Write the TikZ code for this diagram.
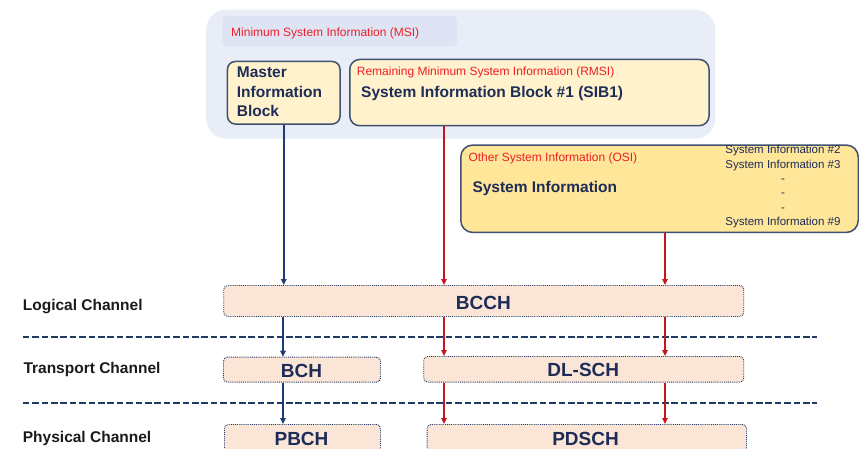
\documentclass[tikz,border=0pt]{standalone}
\usepackage{fontspec}
\setmainfont{Liberation Sans}
\usetikzlibrary{arrows.meta}

\definecolor{navytext}{RGB}{30,44,88}
\definecolor{redtext}{RGB}{240,30,40}
\definecolor{arrowred}{RGB}{196,22,28}
\definecolor{arrowblue}{RGB}{31,58,120}
\definecolor{dashnavy}{RGB}{31,56,100}
\definecolor{panelfill}{RGB}{233,237,247}
\definecolor{tagfill}{RGB}{222,228,243}
\definecolor{lightyel}{RGB}{255,242,204}
\definecolor{osiyel}{RGB}{255,230,153}
\definecolor{peach}{RGB}{251,229,214}
\definecolor{boxline}{RGB}{64,80,112}
\definecolor{labelblack}{RGB}{26,26,26}

\begin{document}
\begin{tikzpicture}[x=1pt,y=-1pt,
  shell/.style={rectangle, inner sep=0pt, anchor=north west},
  outerpanel/.style={shell, fill=panelfill, rounded corners=20pt},
  msitag/.style={shell, fill=tagfill, rounded corners=4pt},
  infobox/.style={shell, draw=boxline, line width=1.5pt},
  chanbox/.style={shell, fill=peach, draw=dashnavy, densely dotted, line width=0.9pt, rounded corners=4pt},
  txt/.style={inner sep=0pt, anchor=base west},
  redsmall/.style={txt, text=redtext, font=\fontsize{12}{14}\selectfont},
  boldnavy/.style={txt, text=navytext, font=\fontsize{15.5}{19}\bfseries},
  silist/.style={inner sep=0pt, anchor=base, text=navytext, font=\fontsize{11.5}{14}\selectfont},
  chanlabel/.style={txt, text=labelblack, font=\fontsize{15.5}{19}\bfseries},
  channame/.style={inner sep=0pt, anchor=base, text=navytext, font=\fontsize{19}{22}\bfseries},
  bluearrow/.style={draw=arrowblue, line width=1.5pt, -{Triangle[length=6pt,width=5.5pt]}},
  redarrow/.style={draw=arrowred, line width=1.5pt, -{Triangle[length=6pt,width=5.5pt]}},
  layerline/.style={draw=dashnavy, line width=2pt, dash pattern=on 6.7pt off 2.7pt}
]
\useasboundingbox (0,0) rectangle (859,449);
\fill[white] (0,0) rectangle (859,449);
\clip (0,0) rectangle (859,449);

% Minimum System Information panel
\node[outerpanel, minimum width=509pt, minimum height=129pt] (msi) at (206,9.5) {};
\node[msitag, minimum width=234.5pt, minimum height=30pt] (msitag) at (222.3,16) {};
\node[redsmall] (msilabel) at (231,36.7) {Minimum System Information (MSI)};

% Master Information Block
\node[infobox, fill=lightyel, rounded corners=8pt, minimum width=112.6pt, minimum height=62.6pt] (mib) at (226.7,60.7) {};
\node[boldnavy] (mibA) at (236.7,78) {Master};
\node[boldnavy] (mibB) at (236.7,97.5) {Information};
\node[boldnavy] (mibC) at (236.7,117) {Block};

% SIB1
\node[infobox, fill=lightyel, rounded corners=10pt, minimum width=359.3pt, minimum height=66.3pt] (sib1) at (349,58.7) {};
\node[redsmall] (rmsilabel) at (356.7,75.3) {Remaining Minimum System Information (RMSI)};
\node[boldnavy] (sib1text) at (361,97.3) {System Information Block \#1 (SIB1)};

% Other System Information
\node[infobox, fill=osiyel, rounded corners=12pt, minimum width=397.5pt, minimum height=87.4pt] (osi) at (460,144.3) {};
\node[redsmall] (osilabel) at (468.3,161.7) {Other System Information (OSI)};
\node[boldnavy] (sitext) at (472.3,192.3) {System Information};
\node[silist] (si2) at (783,154) {System Information \#2};
\node[silist] (si3) at (783,168.3) {System Information \#3};
\node[silist] (dotA) at (783,182.6) {-};
\node[silist] (dotB) at (783,196.9) {-};
\node[silist] (dotC) at (783,211.2) {-};
\node[silist] (si9) at (783,225.5) {System Information \#9};

% Layer separators
\coordinate (sepAw) at (22.7,337.3);
\coordinate (sepAe) at (816.7,337.3);
\coordinate (sepBw) at (22.7,403.3);
\coordinate (sepBe) at (816.7,403.3);
\draw[layerline] (sepAw) -- (sepAe);
\draw[layerline] (sepBw) -- (sepBe);

% Channel labels
\node[chanlabel] (logical) at (22.7,310) {Logical Channel};
\node[chanlabel] (transport) at (23.3,373.3) {Transport Channel};
\node[chanlabel] (physical) at (22.7,442.3) {Physical Channel};

% Channel boxes
\node[chanbox, minimum width=520pt, minimum height=31pt] (bcch) at (223.3,285) {};
\node[chanbox, minimum width=157pt, minimum height=25pt] (bch) at (223,356.7) {};
\node[chanbox, minimum width=320pt, minimum height=25.7pt] (dlsch) at (423.3,356) {};
\node[chanbox, minimum width=156pt, minimum height=40pt] (pbch) at (224,424) {};
\node[chanbox, minimum width=319.3pt, minimum height=40pt] (pdsch) at (426.7,424) {};

\node[channame] (bcchtext) at (483.3,309.3) {BCCH};
\node[channame] (bchtext) at (301.5,377.3) {BCH};
\node[channame] (dlschtext) at (583.3,376.7) {DL-SCH};
\node[channame] (pbchtext) at (301.5,445) {PBCH};
\node[channame] (pdschtext) at (585.5,445) {PDSCH};

% Mapping arrows
\coordinate (xb) at (283,0);
\coordinate (xr1) at (444,0);
\coordinate (xr2) at (665,0);
\draw[bluearrow] (mib.south) -- (mib.south |- bcch.north);
\draw[bluearrow] (bcch.south -| xb) -- (bch.north -| xb);
\draw[bluearrow] (bch.south -| xb) -- (pbch.north -| xb);
\draw[redarrow] (sib1.south -| xr1) -- (bcch.north -| xr1);
\draw[redarrow] (osi.south -| xr2) -- (bcch.north -| xr2);
\draw[redarrow] (bcch.south -| xr1) -- (dlsch.north -| xr1);
\draw[redarrow] (bcch.south -| xr2) -- (dlsch.north -| xr2);
\draw[redarrow] (dlsch.south -| xr1) -- (pdsch.north -| xr1);
\draw[redarrow] (dlsch.south -| xr2) -- (pdsch.north -| xr2);
\end{tikzpicture}
\end{document}
